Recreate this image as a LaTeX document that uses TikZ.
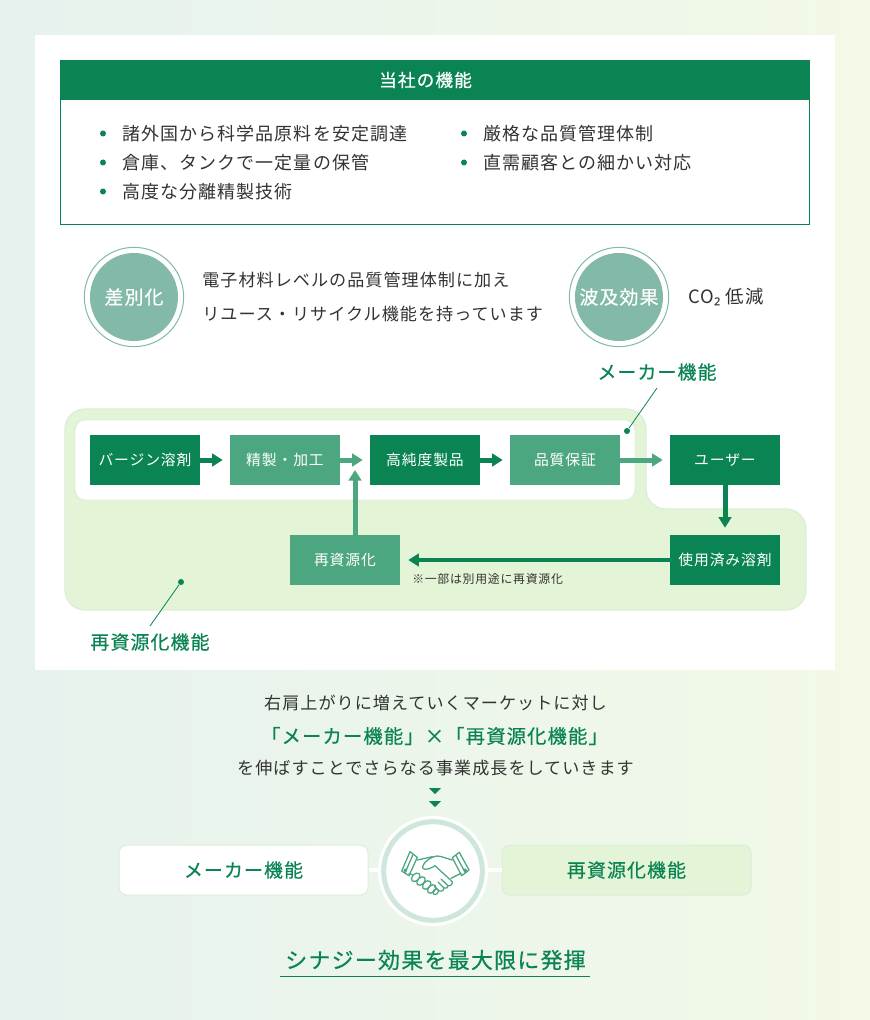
\documentclass[tikz,border=0pt]{standalone}
\usepackage{fontspec}
\setmainfont{Noto Sans CJK JP}[LetterSpace=6]
\newfontfamily\cjkm{Noto Sans CJK JP}[LetterSpace=6,FakeBold=0.5]
\newfontfamily\subfont{Noto Sans}
\usetikzlibrary{arrows.meta,calc}
\definecolor{dgreen}{HTML}{0B8454}
\definecolor{lgreen}{HTML}{4CA680}
\definecolor{pale}{HTML}{E4F4D6}
\definecolor{paleedge}{HTML}{DCEEDA}
\definecolor{sage}{HTML}{82B9A8}
\definecolor{ink}{HTML}{333333}
\definecolor{bgleft}{HTML}{E6F2EE}
\definecolor{bgright}{HTML}{F2F9E6}
\definecolor{ringc}{HTML}{CFE7DB}
\newcommand{\fs}[1]{\pgfmathsetmacro\fsz{#1*0.75}\fontsize{\fsz}{\fsz}\selectfont}
\tikzset{
  stepbox/.style={minimum width=82.5pt,minimum height=37.5pt,inner sep=0pt,text=white,font=\fs{14.8}},
  dark/.style={stepbox,fill=dgreen},
  light/.style={stepbox,fill=lgreen},
  flowd/.style={draw=dgreen,line width=3.75pt,-{Triangle[length=8pt,width=9.5pt]},shorten >=5.25pt},
  flowl/.style={flowd,draw=lgreen},
  txt/.style={inner sep=0pt,text=ink,font=\fs{17.1}},
  item/.style={inner sep=0pt,text=ink,anchor=west,font=\fs{18}},
  head/.style={inner sep=0pt,text=dgreen,font=\cjkm\fs{18.9}},
  spot/.style={circle,fill=dgreen,inner sep=0pt,minimum size=4.5pt},
  bullet/.style={circle,fill=dgreen,inner sep=0pt,minimum size=4.5pt},
  tag/.style={draw=dgreen,line width=0.6pt},
  badge/.style={circle,fill=sage,inner sep=0pt,minimum size=66pt,text=white,font=\cjkm\fs{18.9}},
  ring/.style={circle,draw=sage,line width=0.75pt,inner sep=0pt,minimum size=74.5pt},
  pill/.style={rounded corners=6pt,minimum width=186.75pt,minimum height=37.5pt,inner sep=0pt,text=dgreen,font=\cjkm\fs{18.9},line width=0.75pt},
  hand/.style={draw=lgreen,line width=0.95pt,line join=round,line cap=round}
}
\begin{document}
\begin{tikzpicture}[x=0.75pt,y=0.75pt,yscale=-1,xscale=1]
\useasboundingbox (0,0) rectangle (870,1020);
\shade[left color=bgleft,right color=bgright] (0,0) rectangle (870,1020);
\fill[white] (35,35) rectangle (835,670);
% function panel
\draw[dgreen,line width=0.75pt] (60.5,100) rectangle (809.5,224.5);
\node[dark,minimum width=562.5pt,minimum height=30pt] (title) at (435,80) {};
\node[inner sep=0pt,text=white,font=\cjkm\fs{17.7}] (titlel) at (425.5,80) {当社の機能};
\node[bullet] (b1) at (103,133.5) {};
\node[bullet] (b2) at (103,162.5) {};
\node[bullet] (b3) at (103,191.5) {};
\node[bullet] (b4) at (464,133.5) {};
\node[bullet] (b5) at (464,162.5) {};
\node[item] (i1) at (122,133.5) {諸外国から科学品原料を安定調達};
\node[item] (i2) at (122,162.5) {倉庫、タンクで一定量の保管};
\node[item] (i3) at (122,191.5) {高度な分離精製技術};
\node[item] (i4) at (483,133.5) {厳格な品質管理体制};
\node[item] (i5) at (483,162.5) {直需顧客との細かい対応};
% badges
\node[ring] (r1) at (134,297) {};
\node[badge] (diff) at (134,297) {差別化};
\node[txt,anchor=west] (d1) at (202,280) {電子材料レベルの品質管理体制に加え};
\node[txt,anchor=west] (d2) at (202,314) {リユース・リサイクル機能を持っています};
\node[ring] (r2) at (619,297) {};
\node[badge] (wave) at (619,297) {波及効果};
\node[txt,anchor=west,font=\fs{18.4}] (co) at (688,297) {CO{\subfont ₂} 低減};
% process area
\draw[fill=pale,draw=paleedge,line width=1pt,rounded corners=15pt] (65,409) -- (646,409) -- (646,509) -- (806,509) -- (806,610) -- (65,610) -- cycle;
\draw[fill=white,draw=paleedge,line width=0.7pt,rounded corners=7.5pt] (75,420) rectangle (635,500);
\node[dark] (virgin) at (145,460) {バージン溶剤};
\node[light] (refine) at (285,460) {精製・加工};
\node[dark] (pure) at (425,460) {高純度製品};
\node[light] (qa) at (565,460) {品質保証};
\node[dark] (user) at (725,460) {ユーザー};
\node[light] (recycle) at (345,560) {再資源化};
\node[dark] (used) at (725,560) {使用済み溶剤};
\coordinate (upfoot) at (355,535);
\coordinate (uptip) at (355,470);
\draw[flowd] (virgin) -- (refine);
\draw[flowl] (refine) -- (pure);
\draw[flowd] (pure) -- (qa);
\draw[flowl] (qa) -- (user);
\draw[flowd] (user) -- (used);
\draw[flowl,shorten >=0pt] (upfoot) -- (uptip);
\draw[flowd,line width=3pt,-{Triangle[length=8pt,width=9.5pt]},shorten >=6pt] (used) -- (recycle);
\node[inner sep=0pt,text=ink,anchor=west,font=\fs{11.9}] (note) at (412,579.5) {※一部は別用途に再資源化};
\node[spot] (maker) at (627,431) {};
\node[spot] (remake) at (181,582) {};
\node[head] (makerl) at (657,372) {メーカー機能};
\node[head] (remakel) at (150,642) {再資源化機能};
\coordinate (makerend) at (657,388);
\coordinate (remakeend) at (150,626);
\draw[tag] (maker) -- (makerend);
\draw[tag] (remake) -- (remakeend);
% closing lines
\node[txt] (t1) at (435.5,703) {右肩上がりに増えていくマーケットに対し};
\node[head,font=\cjkm\fs{19.3}] (t2) at (434.5,736) {「メーカー機能」×「再資源化機能」};
\node[txt] (t3) at (435.5,768) {を伸ばすことでさらなる事業成長をしていきます};
\fill[dgreen] (429,788) -- (441,788) -- (435,794) -- cycle;
\fill[dgreen] (429,801) -- (441,801) -- (435,807) -- cycle;
% synergy row
\node[pill,fill=white,draw=paleedge] (mk) at (243.5,870) {メーカー機能};
\node[pill,fill=pale,draw=paleedge] (rc) at (626.5,870) {再資源化機能};
\draw[paleedge,line width=3.6pt] (mk) -- (rc);
\draw[white,line width=2.4pt] (mk) -- (rc);
\node[circle,fill=bgleft,draw=white,line width=2.6pt,inner sep=0pt,minimum size=80pt] (hubout) at (433,871) {};
\node[circle,fill=white,draw=ringc,line width=3.75pt,inner sep=0pt,minimum size=74pt] (hubin) at (433,871) {};
% handshake
\draw[hand] (410,851.7) -- (417.3,857.3) -- (409,875.7) -- (401.7,871) -- cycle;
\draw[hand] (413,854.5) -- (405,873);
\draw[hand] (452.3,857.7) -- (459.3,852.3) -- (469,870) -- (461.7,875.7) -- cycle;
\draw[hand] (456,855.5) -- (465.5,873);
\draw[hand] (405.3,870.3) circle (1.3);
\draw[hand] (465,870.3) circle (1.3);
\draw[hand] (417.3,860) -- (432.3,856.7);
\draw[hand] (452.3,860) .. controls (445,858) and (441,856) .. (436.7,856) .. controls (431,857) and (425,861) .. (423.3,865) .. controls (421.5,868) and (423,870) .. (428.3,869) .. controls (431,868) and (433,867) .. (435,865.7) -- (452.3,881.7) .. controls (453,884) and (450,886.5) .. (448,885.7) -- (441,879);
\draw[hand] (448,885.7) .. controls (448,888) and (446,889) .. (444,888) -- (438,882);
\draw[hand] (444,888) .. controls (443.5,891) and (441,892) .. (439,891) -- (434.5,886.5);
\draw[hand] (461,873.3) -- (451,878.3);
\draw[hand] (409,873.3) -- (412.5,875);
\foreach \hx/\hy in {415.7/877.3,421/881,426.7/885,431.7/889}
  \draw[hand,rotate around={-45:(\hx,\hy)}] (\hx,\hy) ellipse (5 and 3.4);
\draw[hand,rotate around={-45:(435.7,891.7)}] (435.7,891.7) ellipse (3.2 and 2.4);
% result
\node[head,font=\cjkm\fs{21.9}] (result) at (435.5,960) {シナジー効果を最大限に発揮};
\coordinate (ulleft) at (280,976.5);
\coordinate (ulright) at (590,976.5);
\draw[dgreen,line width=0.75pt] (ulleft) -- (ulright);
\end{tikzpicture}
\end{document}
